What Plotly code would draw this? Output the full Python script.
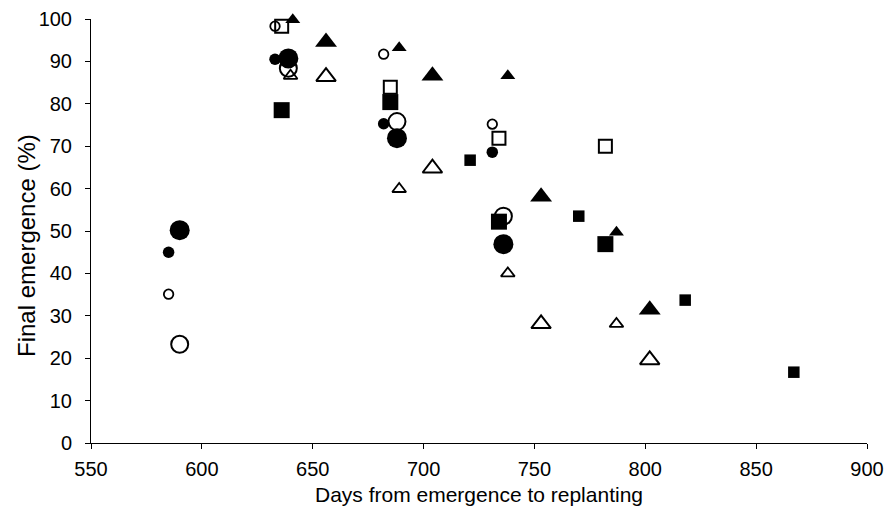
import plotly.graph_objects as go

# Days from emergence to replanting (x) and final emergence % (y) for each treatment
sfc_x = [585, 633, 682, 731]
sfc_y = [45.0, 90.5, 75.3, 68.6]
lfc_x = [590, 639, 688, 736]
lfc_y = [50.2, 90.7, 71.9, 46.9]
soc_x = [585, 633, 682, 731]
soc_y = [35.1, 98.3, 91.7, 75.2]
loc_x = [590, 639, 688, 736]
loc_y = [23.3, 88.4, 75.8, 53.5]
sfs_x = [721, 770, 818, 867]
sfs_y = [66.7, 53.5, 33.7, 16.7]
lfs_x = [636, 685, 734, 782]
lfs_y = [78.5, 80.4, 52.2, 46.9]
los_x = [636, 685, 734, 782]
los_y = [98.3, 83.9, 71.9, 70.0]
sft_x = [641, 689, 738, 787]
sft_y = [99.8, 93.2, 86.6, 49.7]
lft_x = [656, 704, 753, 802]
lft_y = [94.6, 86.6, 58.1, 31.4]
sot_x = [640, 689, 738, 787]
sot_y = [86.6, 59.9, 40.0, 28.1]
lot_x = [656, 704, 753, 802]
lot_y = [86.4, 64.8, 28.1, 19.6]

x_ticks = [550, 600, 650, 700, 750, 800, 850, 900]
y_ticks = [0, 10, 20, 30, 40, 50, 60, 70, 80, 90, 100]

FONT = "Liberation Sans, Arial, sans-serif"

# (x, y, symbol, size, line width) — open markers first so filled ones sit on top
series = [
    (soc_x, soc_y, "circle-open", 9.5, 1.8),
    (loc_x, loc_y, "circle-open", 17, 2),
    (los_x, los_y, "square-open", 13, 2),
    (sot_x, sot_y, "triangle-up-open", 12, 1.8),
    (lot_x, lot_y, "triangle-up-open", 17, 2),
    (sfc_x, sfc_y, "circle", 11.5, 0),
    (lfc_x, lfc_y, "circle", 20, 0),
    (sfs_x, sfs_y, "square", 11.5, 0),
    (sft_x, sft_y, "triangle-up", 13, 0),
    (lft_x, lft_y, "triangle-up", 19, 0),
    (lfs_x, lfs_y, "square", 16, 0),
]

fig = go.Figure()
for xs, ys, sym, size, lw in series:
    fig.add_trace(go.Scatter(
        x=xs, y=ys, mode="markers", cliponaxis=False,
        marker=dict(symbol=sym, size=size, color="black",
                    line=dict(color="black", width=lw)),
    ))

axis_common = dict(
    showline=True, linecolor="black", linewidth=1,
    ticks="outside", ticklen=5, tickcolor="black", tickwidth=1,
    showgrid=False, zeroline=False, automargin=False,
    tickfont=dict(family=FONT, size=20, color="black"),
)

fig.update_layout(
    width=884, height=515,
    margin=dict(l=91, r=17, t=19, b=72),
    paper_bgcolor="white", plot_bgcolor="white",
    showlegend=False,
    font=dict(family=FONT, color="black"),
    xaxis=dict(range=[550, 900], tickvals=x_ticks, ticklabelstandoff=3,
               **axis_common,
               title=dict(text="Days from emergence to replanting",
                          font=dict(family=FONT, size=21, color="black"),
                          standoff=8)),
    yaxis=dict(range=[0, 100], tickvals=y_ticks, ticklabelstandoff=9,
               **axis_common),
    annotations=[dict(
        text="Final emergence (%)", textangle=-90,
        xref="paper", yref="paper", x=-0.0825, y=0.467,
        xanchor="center", yanchor="middle", showarrow=False,
        font=dict(family=FONT, size=24, color="black"),
    )],
)

fig.write_html("out.html")
